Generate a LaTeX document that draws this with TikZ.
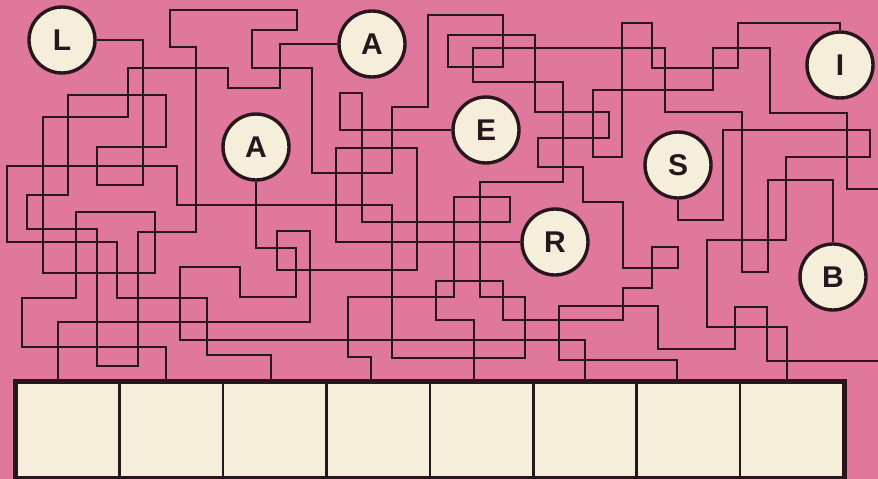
\documentclass[tikz,border=0pt]{standalone}
\usepackage{fontspec}
\setmainfont{Liberation Sans}
\definecolor{mazepink}{RGB}{224,120,155}
\definecolor{cream}{RGB}{245,238,218}
\definecolor{ink}{RGB}{40,22,28}

\begin{document}
\begin{tikzpicture}[x=1pt,y=-1pt,
  track/.style={draw=ink,line width=2.5pt},
  letter/.style={circle,draw=ink,line width=3.4pt,fill=cream,minimum size=66pt,inner sep=0pt,
    font=\fontsize{30}{30}\selectfont\bfseries,text=ink},
  cell/.style={draw=ink,line width=2.6pt,fill=cream,minimum width=103.4pt,minimum height=95pt,
    inner sep=0pt,anchor=north west}]
  \useasboundingbox (0,0) rectangle (878,479);
  \fill[mazepink] (0,0) rectangle (878,479);

  % Letters
  \node[letter] (L)  at (62,40)   {L};
  \node[letter] (A1) at (372,44)  {A};
  \node[letter] (A2) at (256,147) {A};
  \node[letter] (E)  at (486,130) {E};
  \node[letter] (S)  at (678,165) {S};
  \node[letter] (I)  at (840,65)  {I};
  \node[letter] (R)  at (555,242) {R};
  \node[letter] (B)  at (833,277) {B};

  % Answer boxes
  \foreach \i in {1,...,8}
    \node[cell] (box\i) at ({15+(\i-1)*103.4},381) {};
  \draw[ink,line width=3.4pt] (box1.north west) rectangle (box8.south east);

  % L - fifth box
  \draw[track] (L.east) -- (143,40) -- (143,185) -- (97,185) -- (97,147) -- (166,147)
    -- (166,95) -- (68,95) -- (68,195) -- (27,195) -- (27,229) -- (97,229) -- (97,366)
    -- (138,366) -- (138,232) -- (196,232) -- (196,47) -- (170,47) -- (170,10)
    -- (297,10) -- (297,30) -- (252,30) -- (252,68) -- (312,68) -- (312,173)
    -- (392,173) -- (392,107) -- (428,107) -- (428,15) -- (503,15) -- (503,67)
    -- (448,67) -- (448,35) -- (535,35) -- (535,112) -- (609,112) -- (609,138)
    -- (538,138) -- (538,167) -- (583,167) -- (583,202) -- (623,202) -- (623,268)
    -- (678,268) -- (678,247) -- (652,247) -- (652,288) -- (623,288) -- (623,320)
    -- (503,320) -- (503,281) -- (436,281) -- (436,320) -- (474,320)
    -- (474,0 |- box5.north);

  % top A - second box
  \draw[track] (A1.west) -- (280,44) -- (280,88) -- (228,88) -- (228,68) -- (128,68)
    -- (128,117) -- (43,117) -- (43,273) -- (155,273) -- (155,212) -- (76,212)
    -- (76,298) -- (22,298) -- (22,347) -- (166,347) -- (166,0 |- box2.north);

  % lower A - sixth box
  \draw[track] (A2.south) -- (256,248) -- (296,248) -- (296,297) -- (240,297)
    -- (240,267) -- (180,267) -- (180,340) -- (585,340) -- (585,0 |- box6.north);

  % R - first box
  \draw[track] (R.west) -- (336,242) -- (336,148) -- (417,148) -- (417,270)
    -- (277,270) -- (277,231) -- (310,231) -- (310,322) -- (58,322)
    -- (58,0 |- box1.north);

  % E - fourth box
  \draw[track] (E.west) -- (340,130) -- (340,93) -- (362,93) -- (362,222)
    -- (510,222) -- (510,197) -- (454,197) -- (454,297) -- (348,297) -- (348,357)
    -- (371,357) -- (371,0 |- box4.north);

  % B - third box
  \draw[track] (B.north) -- (833,180) -- (768,180) -- (768,272) -- (742,272)
    -- (742,112) -- (665,112) -- (665,48) -- (473,48) -- (473,82) -- (563,82)
    -- (563,182) -- (480,182) -- (480,297) -- (525,297) -- (525,358) -- (392,358)
    -- (392,205) -- (177,205) -- (177,166) -- (7,166) -- (7,242) -- (117,242)
    -- (117,298) -- (207,298) -- (207,355) -- (271,355) -- (271,0 |- box3.north);

  % S - eighth box
  \draw[track] (S.south) -- (678,220) -- (723,220) -- (723,130) -- (870,130)
    -- (870,157) -- (786,157) -- (786,240) -- (707,240) -- (707,327) -- (787,327)
    -- (787,0 |- box8.north);

  % I - seventh box, out past the right edge and back
  \coordinate (out) at (880,189);
  \coordinate (back) at (880,361);
  \draw[track] (I.north) -- (840,23) -- (738,23) -- (738,68) -- (652,68) -- (652,23)
    -- (622,23) -- (622,157) -- (593,157) -- (593,90) -- (713,90) -- (713,48)
    -- (770,48) -- (770,113) -- (847,113) -- (847,189) -- (out);
  \draw[track] (back) -- (767,361) -- (767,307) -- (735,307) -- (735,349) -- (658,349)
    -- (658,306) -- (559,306) -- (559,360) -- (677,360) -- (677,0 |- box7.north);
\end{tikzpicture}
\end{document}
